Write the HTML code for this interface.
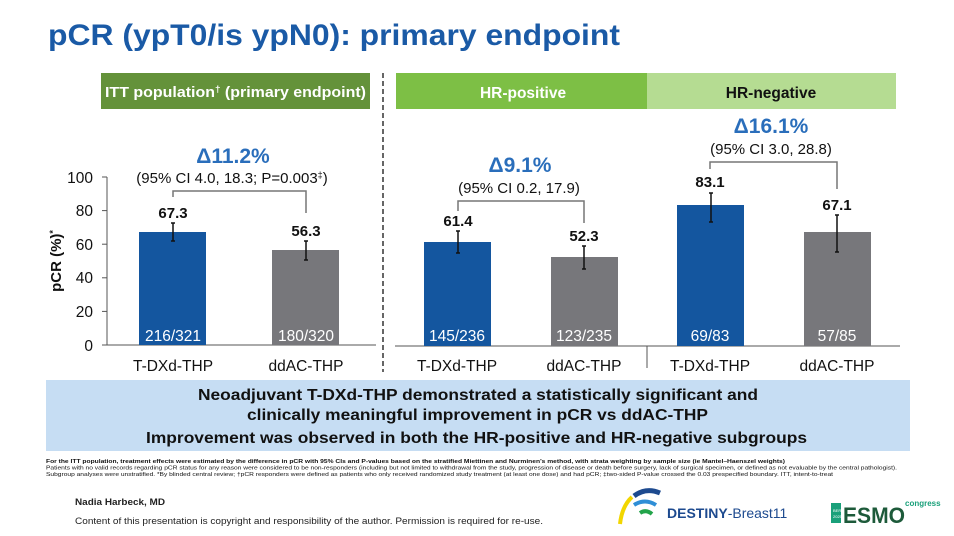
<!DOCTYPE html>
<html><head><meta charset="utf-8"><style>
html,body{margin:0;padding:0;background:#fff;}
svg{display:block;font-family:"Liberation Sans",Arial,sans-serif;}
</style></head><body>
<svg width="954" height="536" viewBox="0 0 954 536" xmlns="http://www.w3.org/2000/svg">
<text x="48" y="45" font-size="30" font-weight="bold" fill="#1a5aa6" textLength="572" lengthAdjust="spacingAndGlyphs">pCR (ypT0/is ypN0): primary endpoint</text>
<!-- headers -->
<rect x="101" y="73" width="269" height="36" fill="#64923a"/>
<text x="105" y="97" font-size="14.5" font-weight="bold" fill="#fff" textLength="261" lengthAdjust="spacingAndGlyphs">ITT population<tspan font-size="9" dy="-5">†</tspan><tspan dy="5"> (primary endpoint)</tspan></text>
<rect x="396" y="73" width="251" height="36" fill="#7dbf45"/>
<text x="523" y="98" font-size="15.5" font-weight="bold" fill="#fff" text-anchor="middle">HR-positive</text>
<rect x="647" y="73" width="249" height="36" fill="#b5dc92"/>
<text x="771" y="98" font-size="15.5" font-weight="bold" fill="#111" text-anchor="middle">HR-negative</text>
<line x1="383" y1="73" x2="383" y2="372" stroke="#333" stroke-width="1.5" stroke-dasharray="5,3"/>
<!-- axis -->
<g stroke="#555" stroke-width="1">
<line x1="107" y1="177" x2="107" y2="345"/>
<line x1="102" y1="345" x2="376" y2="345"/>
<line x1="395" y1="346" x2="900" y2="346"/>
<line x1="647" y1="346" x2="647" y2="368"/>
<line x1="102" y1="177" x2="107" y2="177"/><line x1="102" y1="210.6" x2="107" y2="210.6"/><line x1="102" y1="244.2" x2="107" y2="244.2"/><line x1="102" y1="277.8" x2="107" y2="277.8"/><line x1="102" y1="311.4" x2="107" y2="311.4"/>
</g>
<g font-size="15.5" fill="#111" text-anchor="end">
<text x="93" y="183">100</text><text x="93" y="216">80</text><text x="93" y="250">60</text><text x="93" y="283">40</text><text x="93" y="317">20</text><text x="93" y="351">0</text>
</g>
<text transform="translate(61,261) rotate(-90)" font-size="15" font-weight="bold" fill="#111" text-anchor="middle">pCR (%)<tspan font-size="9" dy="-5">*</tspan></text>
<!-- bars -->
<rect x="139" y="232" width="67" height="113" fill="#14569f"/>
<rect x="272" y="250" width="67" height="95" fill="#77777b"/>
<rect x="424" y="242" width="67" height="104" fill="#14569f"/>
<rect x="551" y="257" width="67" height="89" fill="#77777b"/>
<rect x="677" y="205" width="67" height="141" fill="#14569f"/>
<rect x="804" y="232" width="67" height="114" fill="#77777b"/>
<!-- error bars -->
<g stroke="#111" stroke-width="1.5">
<line x1="173" y1="223" x2="173" y2="241"/><line x1="171" y1="223" x2="175" y2="223"/><line x1="171" y1="241" x2="175" y2="241"/>
<line x1="306" y1="241" x2="306" y2="260"/><line x1="304" y1="241" x2="308" y2="241"/><line x1="304" y1="260" x2="308" y2="260"/>
<line x1="458" y1="231" x2="458" y2="253"/><line x1="456" y1="231" x2="460" y2="231"/><line x1="456" y1="253" x2="460" y2="253"/>
<line x1="584" y1="246" x2="584" y2="269"/><line x1="582" y1="246" x2="586" y2="246"/><line x1="582" y1="269" x2="586" y2="269"/>
<line x1="711" y1="193" x2="711" y2="222"/><line x1="709" y1="193" x2="713" y2="193"/><line x1="709" y1="222" x2="713" y2="222"/>
<line x1="837" y1="215" x2="837" y2="252"/><line x1="835" y1="215" x2="839" y2="215"/><line x1="835" y1="252" x2="839" y2="252"/>
</g>
<!-- brackets -->
<g stroke="#777" stroke-width="1.5" fill="none">
<polyline points="173,197 173,191 306,191 306,213"/>
<polyline points="458,211 458,201 584,201 584,223"/>
<polyline points="710,169 710,162 837,162 837,189"/>
</g>
<g font-weight="bold" fill="#2a6ebb" font-size="21" text-anchor="middle">
<text x="233" y="163">Δ11.2%</text>
<text x="520" y="172">Δ9.1%</text>
<text x="771" y="133">Δ16.1%</text>
</g>
<g font-size="15" fill="#111" text-anchor="middle">
<text x="232" y="183">(95% CI 4.0, 18.3; P=0.003<tspan font-size="9" dy="-5">‡</tspan><tspan dy="5">)</tspan></text>
<text x="519" y="193">(95% CI 0.2, 17.9)</text>
<text x="771" y="154">(95% CI 3.0, 28.8)</text>
</g>
<g font-size="15" font-weight="bold" fill="#111" text-anchor="middle">
<text x="173" y="218">67.3</text><text x="306" y="236">56.3</text>
<text x="458" y="226">61.4</text><text x="584" y="241">52.3</text>
<text x="710" y="187">83.1</text><text x="837" y="210">67.1</text>
</g>
<g font-size="15.5" fill="#fff" text-anchor="middle">
<text x="173" y="341">216/321</text><text x="306" y="341">180/320</text>
<text x="457" y="341">145/236</text><text x="584" y="341">123/235</text>
<text x="710" y="341">69/83</text><text x="837" y="341">57/85</text>
</g>
<g font-size="15.5" fill="#111" text-anchor="middle">
<text x="173" y="371">T-DXd-THP</text><text x="306" y="371">ddAC-THP</text>
<text x="457" y="371">T-DXd-THP</text><text x="584" y="371">ddAC-THP</text>
<text x="710" y="371">T-DXd-THP</text><text x="837" y="371">ddAC-THP</text>
</g>
<!-- summary box -->
<rect x="46" y="380" width="864" height="71" fill="#c6ddf3"/>
<g font-size="16" font-weight="bold" fill="#111">
<text x="198" y="400" textLength="560" lengthAdjust="spacingAndGlyphs">Neoadjuvant T-DXd-THP demonstrated a statistically significant and</text>
<text x="247" y="420" textLength="461" lengthAdjust="spacingAndGlyphs">clinically meaningful improvement in pCR vs ddAC-THP</text>
<text x="146" y="443" textLength="661" lengthAdjust="spacingAndGlyphs">Improvement was observed in both the HR-positive and HR-negative subgroups</text>
</g>
<!-- footnotes -->
<g font-size="5.8" fill="#111">
<text x="46" y="463" textLength="739" lengthAdjust="spacingAndGlyphs" font-weight="bold">For the ITT population, treatment effects were estimated by the difference in pCR with 95% CIs and P-values based on the stratified Miettinen and Nurminen's method, with strata weighting by sample size (ie Mantel–Haenszel weights)</text>
<text x="46" y="469.5" textLength="851" lengthAdjust="spacingAndGlyphs">Patients with no valid records regarding pCR status for any reason were considered to be non-responders (including but not limited to withdrawal from the study, progression of disease or death before surgery, lack of surgical specimen, or defined as not evaluable by the central pathologist).</text>
<text x="46" y="476" textLength="787" lengthAdjust="spacingAndGlyphs">Subgroup analyses were unstratified. *By blinded central review; †pCR responders were defined as patients who only received randomized study treatment (at least one dose) and had pCR; ‡two-sided P-value crossed the 0.03 prespecified boundary. ITT, intent-to-treat</text>
</g>
<text x="75" y="505" font-size="9" font-weight="bold" fill="#222" textLength="90" lengthAdjust="spacingAndGlyphs">Nadia Harbeck, MD</text>
<text x="75" y="524" font-size="9.5" fill="#222" textLength="468" lengthAdjust="spacingAndGlyphs">Content of this presentation is copyright and responsibility of the author. Permission is required for re-use.</text>
<!-- destiny logo -->
<path d="M620 524 Q622 506 632 497" stroke="#f2d600" stroke-width="4" fill="none"/>
<path d="M634 496 Q646 487 660 493" stroke="#1d4a8f" stroke-width="5" fill="none"/>
<path d="M634 505 Q645 498 656 505" stroke="#2f8ed6" stroke-width="4" fill="none"/>
<path d="M640 513 Q646 509 652 514" stroke="#23a44a" stroke-width="4" fill="none"/>
<text x="667" y="518" font-size="14" fill="#1d4a8f"><tspan font-weight="bold">DESTINY</tspan>-Breast11</text>
<!-- esmo -->
<rect x="831" y="503" width="10" height="20" fill="#1aa07a"/>
<text x="833" y="512" font-size="4" fill="#fff">BERLIN</text>
<text x="833" y="518" font-size="4" fill="#fff">2025</text>
<text x="843" y="523" font-size="22" font-weight="bold" fill="#1d5a3a" textLength="62" lengthAdjust="spacingAndGlyphs">ESMO</text>
<text x="905" y="506" font-size="8" font-weight="bold" fill="#1aa07a">congress</text>
</svg>
</body></html>
